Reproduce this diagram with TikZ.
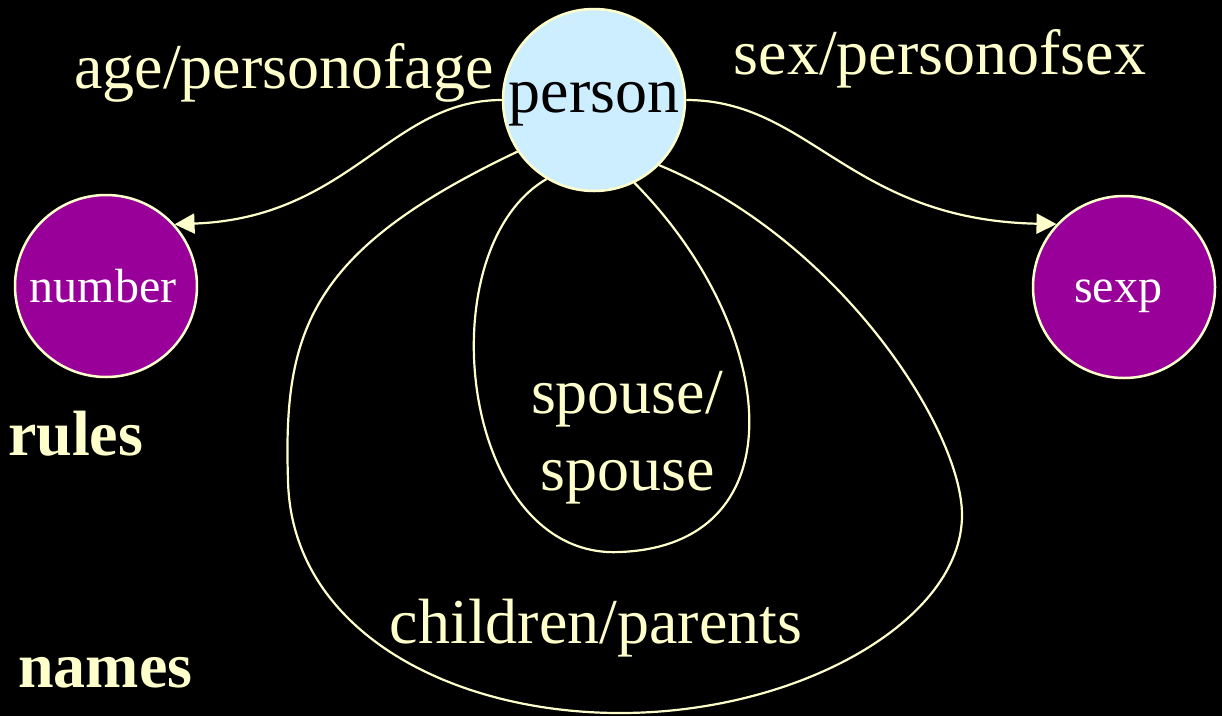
\documentclass[tikz,border=0pt]{standalone}
\usepackage{fontspec}
\setmainfont{Liberation Serif}
\usetikzlibrary{arrows.meta}
\definecolor{cream}{HTML}{FFFFCC}
\definecolor{lblue}{HTML}{CCEEFF}
\definecolor{purp}{HTML}{990099}
\tikzset{
  big/.style={font=\fontsize{64}{70}\selectfont},
  small/.style={font=\fontsize{48}{54}\selectfont},
  circ/.style={circle, draw=cream, line width=2.5pt, minimum size=182pt, inner sep=0pt, text depth=0pt},
  lbl/.style={big, text=cream, anchor=base, inner sep=0pt},
  edge/.style={draw=cream, line width=2.2pt},
  arr/.style={edge, -{Triangle[length=20pt,width=20pt]}}
}
\begin{document}
\begin{tikzpicture}[x=1pt,y=-1pt]
\useasboundingbox (0,0) rectangle (1222,716);
\fill[black] (0,0) rectangle (1222,716);
\node[circ, fill=lblue, big, text=black, text height=24pt] (person) at (594,100) {person};
\node[circ, fill=purp, small, text=white, text height=32pt] (number) at (106,286) {\hspace*{-6pt}number};
\node[circ, fill=purp, small, text=white, text height=30pt] (sexp) at (1124,287) {\hspace*{-12pt}sexp};
\node[lbl] (age) at (284,88) {age/personofage};
\node[lbl] (sex) at (940,74) {sex/personofsex};
\node[lbl] (sp1) at (627,413) {spouse/};
\node[lbl] (sp2) at (628,490) {spouse};
\node[lbl] (cp) at (596,643) {children/parents};
\node[lbl, anchor=base west, font=\fontsize{64}{70}\selectfont\bfseries] (rules) at (8,455) {rules};
\node[lbl, anchor=base west, font=\fontsize{64}{70}\selectfont\bfseries] (names) at (18,687) {names};
\draw[arr] (person.west) .. controls (390,100) and (350,218) .. (number.42);
\draw[arr] (person.east) .. controls (810,100) and (850,220) .. (sexp.137);
\coordinate (sb) at (620,552);
\draw[edge] (person.239) .. controls (425,250) and (460,560) .. (sb) .. controls (800,545) and (780,330) .. (person.296);
\coordinate (cb) at (288,480);
\coordinate (cc) at (620,713);
\coordinate (cd) at (962,515);
\draw[edge] (person.214) .. controls (310,250) and (283,330) .. (cb)
  .. controls (291,630) and (450,713) .. (cc)
  .. controls (800,713) and (962,620) .. (cd)
  .. controls (962,430) and (840,240) .. (person.315);
\end{tikzpicture}
\end{document}
